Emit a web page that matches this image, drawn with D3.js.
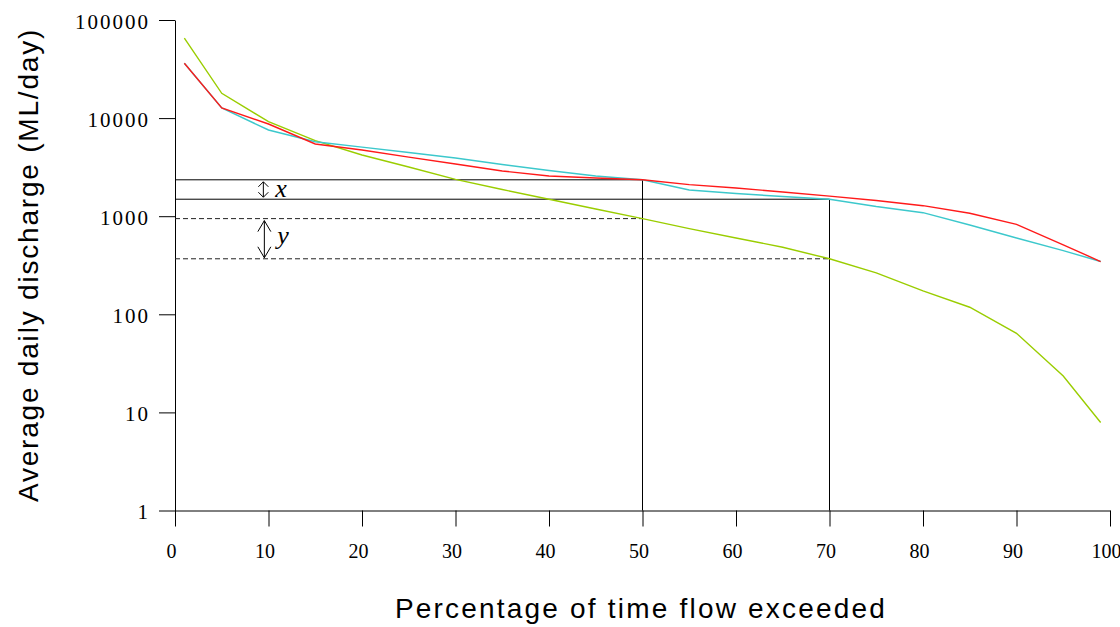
<!DOCTYPE html>
<html>
<head>
<meta charset="utf-8">
<script src="https://cdn.jsdelivr.net/npm/d3@7"></script>
<style>
  html, body { margin: 0; padding: 0; background: #fff; }
  svg { display: block; }
</style>
</head>
<body>
<svg id="chart" width="1120" height="627"></svg>
<script>
// Flow duration curves: percentage of time a flow is exceeded vs average daily discharge
const percentExceeded = [1, 5, 10, 15, 20, 25, 30, 35, 40, 45, 50, 55, 60, 65, 70, 75, 80, 85, 90, 95, 99];
const flowRed   = [36200, 12680, 8710, 5445, 4730, 4000, 3400, 2890, 2570, 2450, 2350, 2100, 1940, 1765, 1600, 1445, 1280, 1071, 827, 511, 345];
const flowCyan  = [36200, 12680, 7565, 5745, 5060, 4460, 3920, 3365, 2923, 2570, 2350, 1850, 1703, 1588, 1490, 1256, 1086, 813, 600, 446, 345];
const flowGreen = [65500, 17900, 9190, 5890, 4205, 3175, 2370, 1870, 1490, 1183, 945, 746, 600, 482, 368, 264, 173, 118, 64, 23.5, 7.9];

const xTicks = [0, 10, 20, 30, 40, 50, 60, 70, 80, 90, 100];
const yTicks = [1, 10, 100, 1000, 10000, 100000];

const xLabel = "Percentage of time flow exceeded";
const yLabel = "Average daily discharge (ML/day)";

const svg = d3.select("#chart");

const x = d3.scaleLinear().domain([0, 100]).range([175, 1110]);
const y = d3.scaleLog().domain([1, 100000]).range([510.5, 20]);

// axes
const xAxis = d3.axisBottom(x).tickValues(xTicks).tickSize(16).tickSizeOuter(0).tickPadding(17);
const yAxis = d3.axisLeft(y).tickValues(yTicks).tickSize(16).tickSizeOuter(0).tickPadding(8)
  .tickFormat(d3.format("d"));

const gx = svg.append("g").attr("transform", `translate(0,${y(1)})`).call(xAxis);
const gy = svg.append("g").attr("transform", `translate(${x(0)},0)`).call(yAxis);

[gx, gy].forEach(g => {
  g.selectAll("path, line").attr("stroke", "#000").attr("stroke-width", 1);
  g.selectAll("text")
    .attr("fill", "#000")
    .style("font-family", "'Liberation Serif', 'Times New Roman', serif")
    .style("font-size", "20px");
});
gx.selectAll("text").attr("dx", "-4");
gy.selectAll("text")
  .style("font-size", "21px")
  .style("letter-spacing", "2px")
  .attr("dy", "0.4em").attr("dx", "-1");

// reference lines for the 50% and 70% exceedance flows
const i50 = percentExceeded.indexOf(50);
const i70 = percentExceeded.indexOf(70);

const refs = svg.append("g").attr("fill", "none");
const solid = [
  { p: 50, q: flowRed[i50] },
  { p: 70, q: flowCyan[i70] }
];
solid.forEach(r => {
  refs.append("path")
    .attr("d", `M${x(0)},${y(r.q)}H${x(r.p)}V${y(1)}`)
    .attr("stroke", "#000").attr("stroke-width", 1);
});
const dashed = [
  { p: 50, q: flowGreen[i50] },
  { p: 70, q: flowGreen[i70] }
];
dashed.forEach(r => {
  refs.append("path")
    .attr("d", `M${x(0)},${y(r.q)}H${x(r.p)}`)
    .attr("stroke", "#222").attr("stroke-width", 1)
    .attr("stroke-dasharray", "5,3");
});

// flow duration curves
const line = d3.line()
  .x((d, i) => x(percentExceeded[i]))
  .y(d => y(d));

const series = [
  { values: flowGreen, color: "#9acd00" },
  { values: flowCyan,  color: "#3cc8cc" },
  { values: flowRed,   color: "#ff1a1a" }
];
svg.append("g").selectAll("path")
  .data(series)
  .join("path")
  .attr("d", d => line(d.values))
  .attr("fill", "none")
  .attr("stroke", d => d.color)
  .attr("stroke-width", 1.4);

// double-headed arrows marking the differences x and y
function doubleArrow(px, y1, y2, hw, hl) {
  const g = svg.append("g").attr("fill", "none").attr("stroke", "#000").attr("stroke-width", 1);
  g.append("path").attr("d", `M${px},${y1}V${y2}`);
  g.append("path").attr("d", `M${px - hw},${y1 + hl}L${px},${y1}L${px + hw},${y1 + hl}`);
  g.append("path").attr("d", `M${px - hw},${y2 - hl}L${px},${y2}L${px + hw},${y2 - hl}`);
}
const ax = x(9.45);
doubleArrow(ax, y(flowRed[i50]) + 2, y(flowCyan[i70]) - 2, 5, 5);
doubleArrow(ax + 1, y(flowGreen[i50]) + 2, y(flowGreen[i70]) - 1, 6.5, 11);

const italic = "'Liberation Serif', 'Times New Roman', serif";
svg.append("text")
  .attr("x", ax + 12).attr("y", (y(flowRed[i50]) + y(flowCyan[i70])) / 2 + 7)
  .style("font-family", italic).style("font-style", "italic").style("font-size", "26px")
  .text("x");
svg.append("text")
  .attr("x", ax + 14).attr("y", (y(flowGreen[i50]) + y(flowGreen[i70])) / 2 + 5)
  .style("font-family", italic).style("font-style", "italic").style("font-size", "26px")
  .text("y");

// axis titles
svg.append("text")
  .attr("x", 641).attr("y", 618)
  .attr("text-anchor", "middle")
  .style("font-family", "'Liberation Sans', Arial, sans-serif")
  .style("font-size", "28px")
  .style("letter-spacing", "2.2px")
  .text(xLabel);

svg.append("text")
  .attr("transform", `translate(38,265) rotate(-90)`)
  .attr("text-anchor", "middle")
  .style("font-family", "'Liberation Sans', Arial, sans-serif")
  .style("font-size", "28px")
  .style("letter-spacing", "1.8px")
  .text(yLabel);
</script>
</body>
</html>
